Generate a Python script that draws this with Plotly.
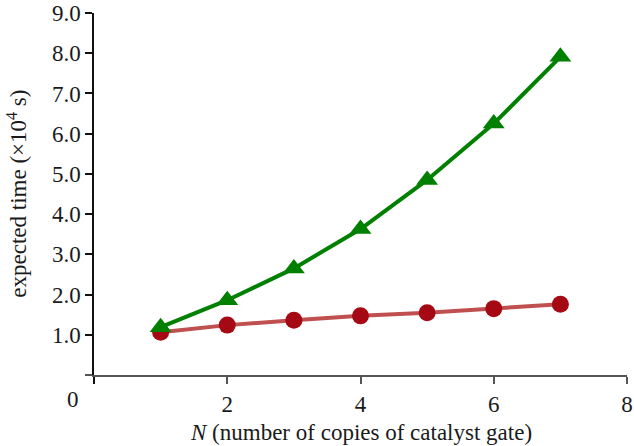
import plotly.graph_objects as go

n_copies = [1, 2, 3, 4, 5, 6, 7]
green_times = [1.19, 1.86, 2.65, 3.63, 4.85, 6.25, 7.91]
red_times = [1.06, 1.24, 1.36, 1.47, 1.55, 1.65, 1.76]
x_ticks = [2, 4, 6, 8]
x_ticklabels = ["2", "4", "6", "8"]
y_ticks = [1, 2, 3, 4, 5, 6, 7, 8, 9]
y_ticklabels = ["1.0", "2.0", "3.0", "4.0", "5.0", "6.0", "7.0", "8.0", "9.0"]

FONT = "Liberation Serif, Times New Roman, serif"

fig = go.Figure()
fig.add_trace(go.Scatter(
    x=n_copies, y=red_times, mode="lines+markers",
    line=dict(color="rgb(192,80,80)", width=4),
    marker=dict(symbol="circle", size=17, color="rgb(165,10,20)"),
    cliponaxis=False, showlegend=False))
fig.add_trace(go.Scatter(
    x=n_copies, y=green_times, mode="lines+markers",
    line=dict(color="rgb(0,128,0)", width=4),
    marker=dict(symbol="triangle-up", size=19, color="rgb(0,128,0)"),
    cliponaxis=False, showlegend=False))

fig.update_layout(
    width=634, height=446,
    margin=dict(l=94, r=7, t=13, b=71),
    paper_bgcolor="white", plot_bgcolor="white",
    font=dict(family=FONT, size=23, color="#1a1a1a"),
    xaxis=dict(range=[0, 8], tickvals=x_ticks, ticktext=x_ticklabels,
               showline=True, linecolor="#555", linewidth=2,
               ticks="outside", ticklen=7, tickwidth=2, tickcolor="#555",
               minor=dict(tickvals=[0], ticks="outside", ticklen=7,
                          tickwidth=2, tickcolor="#111", showgrid=False),
               showgrid=False, zeroline=False, automargin=False,
               title=dict(text="")),
    yaxis=dict(range=[0, 9], tickvals=y_ticks, ticktext=y_ticklabels,
               showline=True, linecolor="#111", linewidth=1.5,
               ticks="outside", ticklen=7, tickwidth=1.5, tickcolor="#111",
               minor=dict(tickvals=[0], ticks="outside", ticklen=7,
                          tickwidth=2, tickcolor="#555", showgrid=False),
               showgrid=False, zeroline=False, automargin=False,
               title=dict(text="")),
    annotations=[
        dict(text="0", xref="paper", yref="paper",
             x=-0.039, y=-0.069, xanchor="center", yanchor="middle",
             showarrow=False, font=dict(size=23)),
        dict(text="<i>N</i> (number of copies of catalyst gate)",
             xref="paper", yref="paper", x=0.5, y=-0.16,
             xanchor="center", yanchor="middle", showarrow=False,
             font=dict(size=23)),
        dict(text="expected time (×10<sup>4</sup> s)",
             xref="paper", yref="paper", x=-0.145, y=0.5, textangle=-90,
             xanchor="center", yanchor="middle", showarrow=False,
             font=dict(size=23)),
    ],
)

fig.write_html("out.html",
               config={"displayModeBar": False},
               post_script="document.body.style.margin='0';document.body.style.overflow='hidden';")
